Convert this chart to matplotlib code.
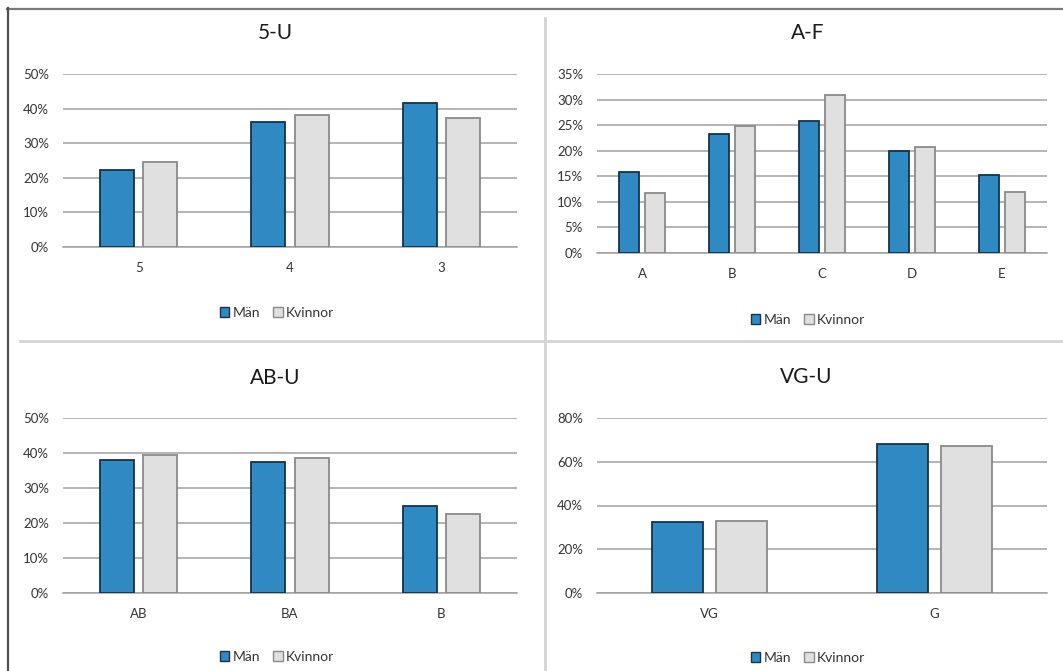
import matplotlib
matplotlib.use("Agg")
import matplotlib.pyplot as plt
from matplotlib.lines import Line2D
from matplotlib.patches import Patch
from matplotlib.ticker import PercentFormatter, MultipleLocator
import numpy as np

plt.rcParams['font.family'] = ['Lato', 'DejaVu Sans']

# ---- data ----
series_names = ["Män", "Kvinnor"]

titles = ["5-U", "A-F", "AB-U", "VG-U"]

cats_5u = ["5", "4", "3"]
man_5u = [22.3, 36.1, 41.6]
kvinnor_5u = [24.5, 38.2, 37.2]

cats_af = ["A", "B", "C", "D", "E"]
man_af = [15.8, 23.3, 25.9, 20.0, 15.3]
kvinnor_af = [11.7, 24.9, 30.8, 20.8, 11.9]

cats_abu = ["AB", "BA", "B"]
man_abu = [37.9, 37.4, 24.9]
kvinnor_abu = [39.5, 38.6, 22.6]

cats_vgu = ["VG", "G"]
man_vgu = [32.3, 68.1]
kvinnor_vgu = [33.0, 67.0]

ymax = [50, 35, 50, 80]
ystep = [10, 5, 10, 20]

# ---- styling ----
W, H = 1063, 671
fig = plt.figure(figsize=(W / 100, H / 100), dpi=100)
fig.patch.set_facecolor("white")

blue = "#2f8ac4"
blue_edge = "#17324a"
gray = "#e0e0e0"
gray_edge = "#8a8a8a"
grid_c = "#a0a0a0"
text_c = "#333333"


def px_axes(x0, y0, x1, y1):
    return fig.add_axes([x0 / W, 1 - y1 / H, (x1 - x0) / W, (y1 - y0) / H])


panels = [
    (px_axes(63, 74, 517, 247), cats_5u, man_5u, kvinnor_5u),
    (px_axes(597, 74, 1047, 253), cats_af, man_af, kvinnor_af),
    (px_axes(63, 418, 517, 593), cats_abu, man_abu, kvinnor_abu),
    (px_axes(597, 418, 1047, 593), cats_vgu, man_vgu, kvinnor_vgu),
]

title_pos = [(275, 33), (808, 33), (275, 378), (806, 377)]
legend_pos = [(277, 313), (808, 320), (277, 657), (808, 658)]

bw = 0.225
off = 0.1425
for i, (ax, cats, m, k) in enumerate(panels):
    x = np.arange(len(cats))
    ax.bar(x - off, m, width=bw, color=blue, edgecolor=blue_edge, linewidth=1.3, zorder=3)
    ax.bar(x + off, k, width=bw, color=gray, edgecolor=gray_edge, linewidth=1.3, zorder=3)
    ax.set_xlim(-0.5, len(cats) - 0.5)
    ax.set_ylim(0, ymax[i])
    ax.yaxis.set_major_locator(MultipleLocator(ystep[i]))
    ax.yaxis.set_major_formatter(PercentFormatter(decimals=0))
    ax.set_xticks(x)
    ax.set_xticklabels(cats)
    ax.tick_params(axis="both", length=0, labelsize=9.5, colors=text_c)
    ax.tick_params(axis="x", pad=11)
    ax.tick_params(axis="y", pad=10)
    ax.grid(axis="y", color=grid_c, linewidth=1.1, zorder=0)
    for s in ["top", "right", "left"]:
        ax.spines[s].set_visible(False)
    ax.spines["bottom"].set_color(grid_c)
    ax.spines["bottom"].set_linewidth(1.1)
    ax.set_facecolor("white")

    tx, ty = title_pos[i]
    fig.text(tx / W, 1 - ty / H, titles[i], ha="center", va="center", fontsize=15, color="#1a1a1a")

    lx, ly = legend_pos[i]
    handles = [Patch(facecolor=blue, edgecolor=blue_edge, linewidth=1.0),
               Patch(facecolor=gray, edgecolor=gray_edge, linewidth=1.0)]
    fig.legend(handles, series_names, loc="center", bbox_to_anchor=(lx / W, 1 - ly / H),
               ncol=2, frameon=False, fontsize=10, handlelength=0.7, handleheight=0.7,
               handletextpad=0.25, columnspacing=0.9, labelcolor=text_c)

# frame lines and dividers
fig.add_artist(Line2D([7 / W, 1], [1 - 8.5 / H, 1 - 8.5 / H], color="#7a7a7a", linewidth=1.6))
fig.add_artist(Line2D([8 / W, 8 / W], [1 - 8 / H, 0], color="#505050", linewidth=1.6))
fig.add_artist(Line2D([545 / W, 545 / W], [1 - 18 / H, 0], color="#d4d4d4", linewidth=2.0))
fig.add_artist(Line2D([20 / W, 1], [1 - 341 / H, 1 - 341 / H], color="#d4d4d4", linewidth=2.0))

fig.savefig("out.png", dpi=100, facecolor="white")
